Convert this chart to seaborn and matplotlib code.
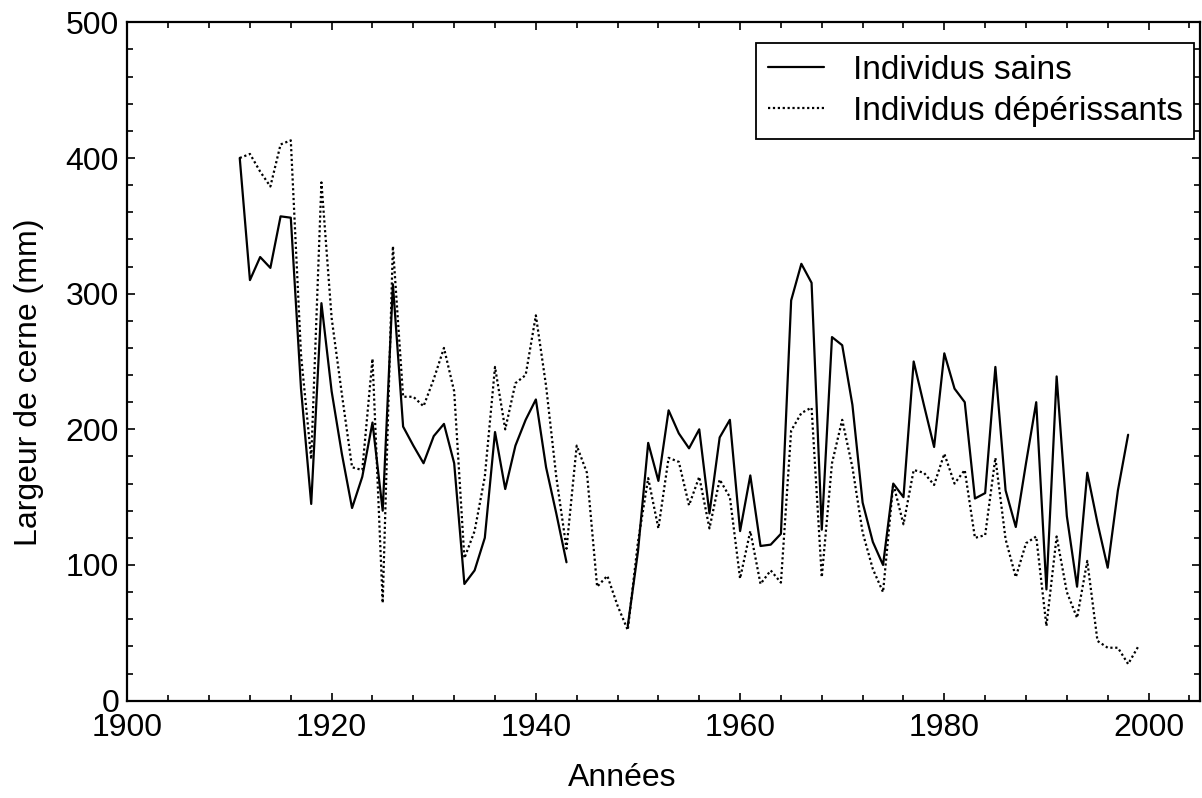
import numpy as np
import pandas as pd
import matplotlib
matplotlib.use("Agg")
import matplotlib.pyplot as plt
import seaborn as sns
from matplotlib.ticker import MultipleLocator

# years and ring widths
annees = list(range(1911, 2000))

sains = [400, 310, 327, 319, 357, 356, 230, 145, 293, 228,
         182, 142, 165, 205, 140, 307, 202, 188, 175, 195,
         204, 175, 86, 96, 120, 198, 156, 188, 207, 222,
         172, 138, 102, np.nan, np.nan, np.nan, np.nan, np.nan, 55, 110,
         190, 162, 214, 197, 186, 200, 138, 194, 207, 125,
         166, 114, 115, 123, 295, 322, 308, 126, 268, 262,
         218, 146, 117, 100, 160, 150, 250, 218, 187, 256,
         230, 220, 149, 153, 246, 155, 128, 175, 220, 82,
         239, 136, 84, 168, 131, 98, 155, 196, np.nan]

deperissants = [400, 403, 390, 379, 410, 413, 255, 178, 382, 282,
                226, 172, 170, 252, 72, 335, 224, 224, 217, 237,
                260, 228, 105, 125, 165, 246, 200, 234, 240, 284,
                232, 165, 112, 188, 168, 84, 92, 70, 52, 117,
                164, 127, 179, 176, 144, 165, 127, 163, 150, 90,
                125, 86, 96, 87, 199, 212, 216, 91, 175, 207,
                172, 124, 97, 80, 160, 130, 170, 168, 159, 182,
                160, 170, 120, 122, 179, 119, 91, 116, 121, 55,
                121, 80, 61, 103, 44, 39, 39, 27, 40]

groupes = ["Individus sains", "Individus dépérissants"]


def to_long(values, name):
    frame = pd.DataFrame({"annee": annees, "largeur": values})
    # a new segment after each gap, so missing years are not bridged
    frame["segment"] = frame["largeur"].isna().cumsum().astype(str) + name
    frame["groupe"] = name
    return frame.dropna()


df = pd.concat([to_long(sains, groupes[0]), to_long(deperissants, groupes[1])])

sns.set_style("ticks")
plt.rcParams["font.family"] = ["Liberation Sans", "DejaVu Sans"]
plt.rcParams["text.color"] = "black"
plt.rcParams["axes.labelcolor"] = "black"
plt.rcParams["xtick.color"] = "black"
plt.rcParams["ytick.color"] = "black"

fig = plt.figure(figsize=(12.02, 7.98), dpi=100)
ax = fig.add_axes([0.106, 0.122, 0.892, 0.850])

sns.lineplot(data=df, x="annee", y="largeur", style="groupe", units="segment",
             estimator=None, color="black", linewidth=1.6,
             style_order=groupes, dashes={groupes[0]: "", groupes[1]: (1, 1.2)},
             ax=ax)

ax.set_xlim(1900, 2005)
ax.set_ylim(0, 500)
ax.xaxis.set_major_locator(MultipleLocator(20))
ax.xaxis.set_minor_locator(MultipleLocator(4))
ax.yaxis.set_major_locator(MultipleLocator(100))
ax.yaxis.set_minor_locator(MultipleLocator(20))
ax.tick_params(which="both", direction="in", top=True, right=True,
               width=1.2, labelsize=23, pad=6)
ax.tick_params(axis="x", which="major", pad=9)
ax.tick_params(which="major", length=6)
ax.tick_params(which="minor", length=4)
for spine in ax.spines.values():
    spine.set_linewidth(1.6)
    spine.set_color("black")

ax.set_xlabel("Années", fontsize=23)
ax.set_ylabel("Largeur de cerne (mm)", fontsize=23)
ax.xaxis.set_label_coords(0.461, -0.092)
ax.yaxis.set_label_coords(-0.078, 0.47)

handles, labels = ax.get_legend_handles_labels()
leg = ax.legend(handles, labels, loc="upper right", bbox_to_anchor=(0.995, 0.969),
                fontsize=24, frameon=True, fancybox=False, framealpha=1,
                edgecolor="black", handlelength=1.7, handletextpad=0.85,
                labelspacing=0.3, borderpad=0.35, borderaxespad=0, title=None)
leg.get_frame().set_linewidth(1.3)

fig.savefig("out.png", dpi=100)
